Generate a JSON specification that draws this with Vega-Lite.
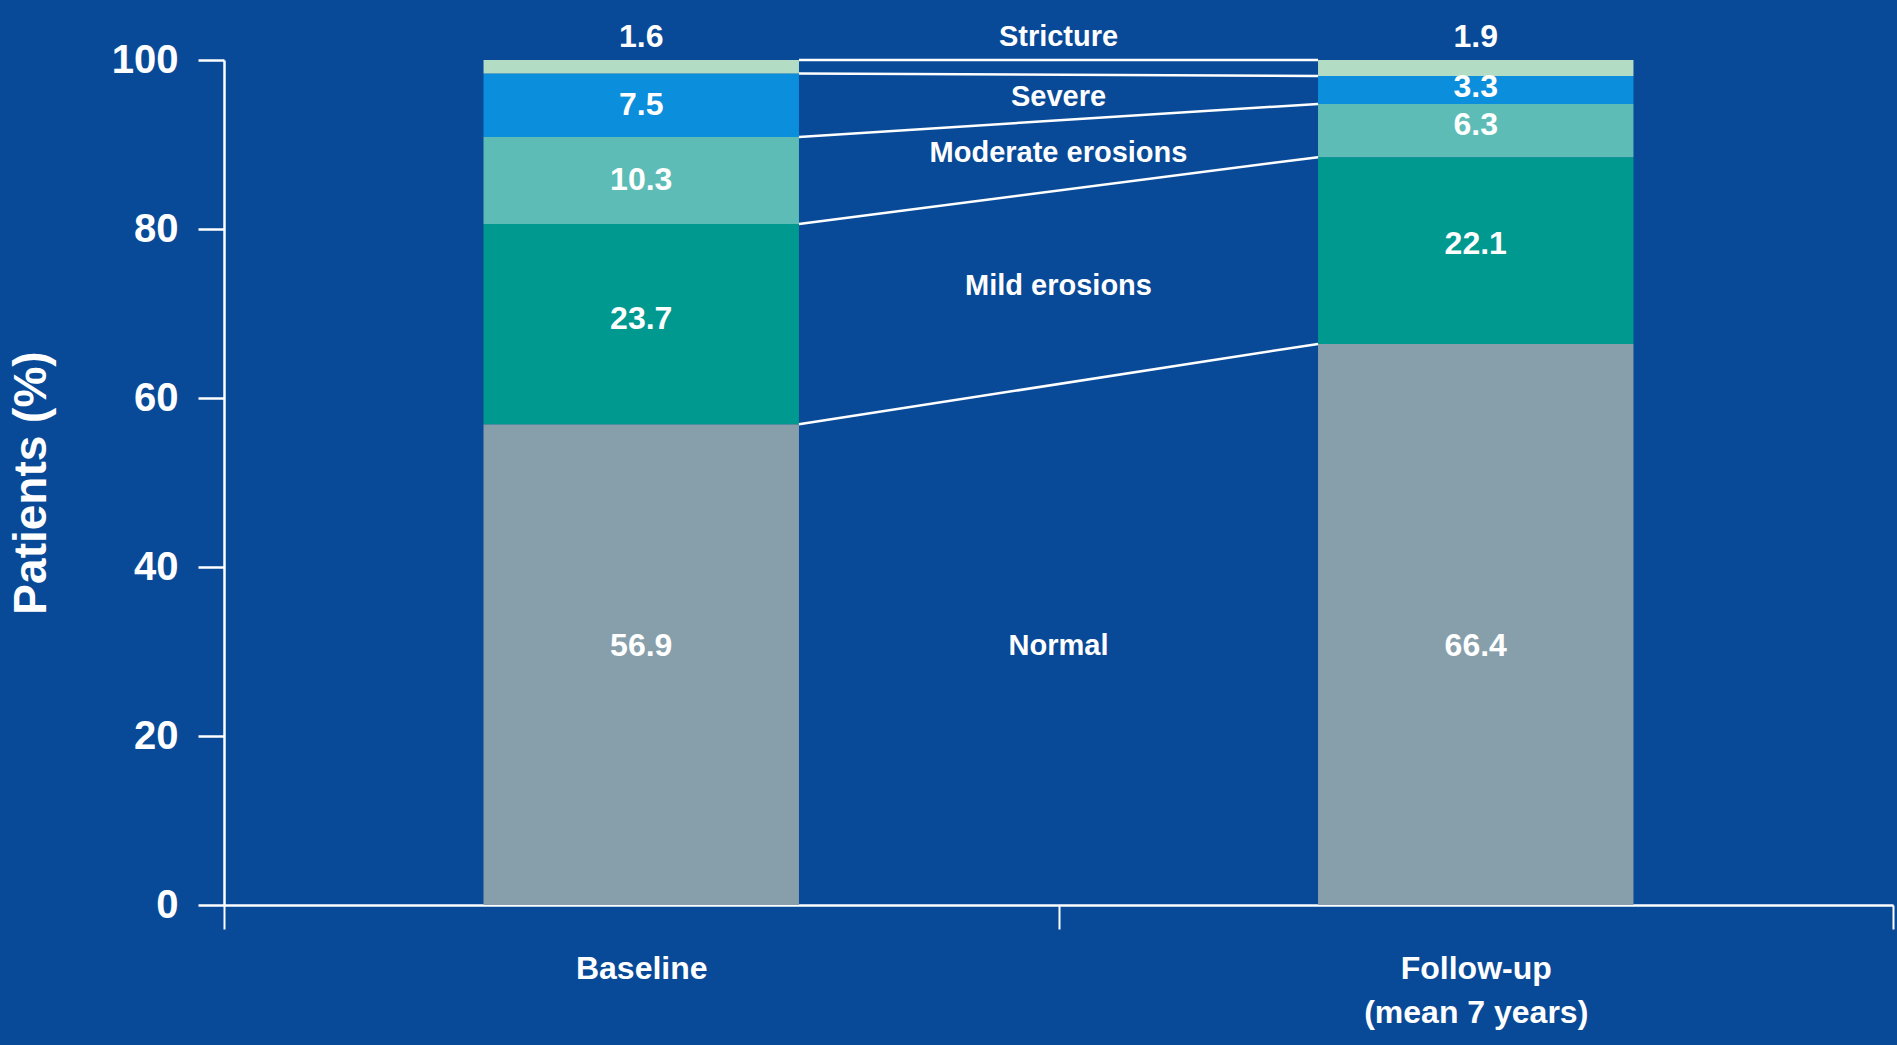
{
  "$schema": "https://vega.github.io/schema/vega-lite/v6.json",
  "autosize": {"type": "none"},
  "width": 1669,
  "height": 845,
  "padding": {"left": 224, "top": 60, "right": 4, "bottom": 140},
  "background": "#094a98",
  "config": {
    "view": {"stroke": null},
    "font": "Liberation Sans",
    "text": {"font": "Liberation Sans"}
  },
  "datasets": {
    "segments": [
      {"cat": "Baseline", "grade": "Normal", "severity": 0, "pct": 56.9},
      {"cat": "Baseline", "grade": "Mild erosions", "severity": 1, "pct": 23.7},
      {"cat": "Baseline", "grade": "Moderate erosions", "severity": 2, "pct": 10.3},
      {"cat": "Baseline", "grade": "Severe", "severity": 3, "pct": 7.5},
      {"cat": "Baseline", "grade": "Stricture", "severity": 4, "pct": 1.6},
      {"cat": "Follow-up (mean 7 years)", "grade": "Normal", "severity": 0, "pct": 66.4},
      {"cat": "Follow-up (mean 7 years)", "grade": "Mild erosions", "severity": 1, "pct": 22.1},
      {"cat": "Follow-up (mean 7 years)", "grade": "Moderate erosions", "severity": 2, "pct": 6.3},
      {"cat": "Follow-up (mean 7 years)", "grade": "Severe", "severity": 3, "pct": 3.3},
      {"cat": "Follow-up (mean 7 years)", "grade": "Stricture", "severity": 4, "pct": 1.9}
    ],
    "links": [
      {"from": "Baseline", "to": "Follow-up (mean 7 years)", "base": 100, "follow": 100},
      {"from": "Baseline", "to": "Follow-up (mean 7 years)", "base": 98.4, "follow": 98.1},
      {"from": "Baseline", "to": "Follow-up (mean 7 years)", "base": 90.9, "follow": 94.8},
      {"from": "Baseline", "to": "Follow-up (mean 7 years)", "base": 80.6, "follow": 88.5},
      {"from": "Baseline", "to": "Follow-up (mean 7 years)", "base": 56.9, "follow": 66.4}
    ],
    "valueLabels": [
      {"cat": "Baseline", "label": "1.6", "pos": 102.7},
      {"cat": "Baseline", "label": "7.5", "pos": 94.7},
      {"cat": "Baseline", "label": "10.3", "pos": 85.8},
      {"cat": "Baseline", "label": "23.7", "pos": 69.4},
      {"cat": "Baseline", "label": "56.9", "pos": 30.6},
      {"cat": "Follow-up (mean 7 years)", "label": "1.9", "pos": 102.7},
      {"cat": "Follow-up (mean 7 years)", "label": "3.3", "pos": 96.8},
      {"cat": "Follow-up (mean 7 years)", "label": "6.3", "pos": 92.3},
      {"cat": "Follow-up (mean 7 years)", "label": "22.1", "pos": 78.2},
      {"cat": "Follow-up (mean 7 years)", "label": "66.4", "pos": 30.6}
    ],
    "nameLabels": [
      {"cat": "Baseline", "label": "Stricture", "pos": 102.7},
      {"cat": "Baseline", "label": "Severe", "pos": 95.6},
      {"cat": "Baseline", "label": "Moderate erosions", "pos": 89.0},
      {"cat": "Baseline", "label": "Mild erosions", "pos": 73.3},
      {"cat": "Baseline", "label": "Normal", "pos": 30.6}
    ]
  },
  "layer": [
    {
      "data": {"name": "segments"},
      "mark": {"type": "bar", "width": {"band": 0.378}},
      "encoding": {
        "x": {
          "field": "cat", "type": "nominal", "title": null,
          "scale": {"domain": ["Baseline", "Follow-up (mean 7 years)"], "paddingInner": 0, "paddingOuter": 0},
          "axis": {
            "tickBand": "extent",
            "domainColor": "white", "domainWidth": 2.5,
            "tickColor": "white", "tickWidth": 2, "tickSize": 24,
            "labelColor": "white", "labelFontSize": 32, "labelFontWeight": "bold",
            "labelFont": "Liberation Sans", "labelPadding": 24, "labelAngle": 0,
            "labelLineHeight": 44, "labelLimit": 500,
            "labelExpr": "datum.label == 'Follow-up (mean 7 years)' ? ['Follow-up', '(mean 7 years)'] : datum.label"
          }
        },
        "y": {
          "field": "pct", "type": "quantitative", "stack": "zero", "title": "Patients (%)",
          "scale": {"domain": [0, 100], "nice": false},
          "axis": {
            "values": [0, 20, 40, 60, 80, 100], "grid": false,
            "domainColor": "white", "domainWidth": 2.5,
            "tickColor": "white", "tickWidth": 2.5, "tickSize": 26,
            "labelColor": "white", "labelFontSize": 40, "labelFontWeight": "bold",
            "labelFont": "Liberation Sans", "labelPadding": 20,
            "titleColor": "white", "titleFontSize": 46, "titleFontWeight": "bold",
            "titleFont": "Liberation Sans", "titlePadding": 56
          }
        },
        "color": {
          "field": "grade", "type": "nominal",
          "scale": {
            "domain": ["Normal", "Mild erosions", "Moderate erosions", "Severe", "Stricture"],
            "range": ["#879fab", "#00998f", "#5dbdb6", "#0b8edb", "#b2dcc3"]
          },
          "legend": null
        },
        "order": {"field": "severity", "type": "quantitative", "sort": "ascending"}
      }
    },
    {
      "data": {"name": "links"},
      "mark": {"type": "rule", "color": "white", "strokeWidth": 2.5},
      "encoding": {
        "x": {"field": "from", "type": "nominal", "bandPosition": 0.689, "title": null},
        "x2": {"field": "to", "bandPosition": 0.311},
        "y": {"field": "base", "type": "quantitative", "title": "Patients (%)"},
        "y2": {"field": "follow"}
      }
    },
    {
      "data": {"name": "valueLabels"},
      "mark": {"type": "text", "color": "white", "fontWeight": "bold", "fontSize": 32, "baseline": "middle", "align": "center"},
      "encoding": {
        "x": {"field": "cat", "type": "nominal", "title": null},
        "y": {"field": "pos", "type": "quantitative", "title": "Patients (%)"},
        "text": {"field": "label", "type": "nominal"}
      }
    },
    {
      "data": {"name": "nameLabels"},
      "mark": {"type": "text", "color": "white", "fontWeight": "bold", "fontSize": 29, "baseline": "middle", "align": "center"},
      "encoding": {
        "x": {"field": "cat", "type": "nominal", "bandPosition": 1, "title": null},
        "y": {"field": "pos", "type": "quantitative", "title": "Patients (%)"},
        "text": {"field": "label", "type": "nominal"}
      }
    }
  ]
}
